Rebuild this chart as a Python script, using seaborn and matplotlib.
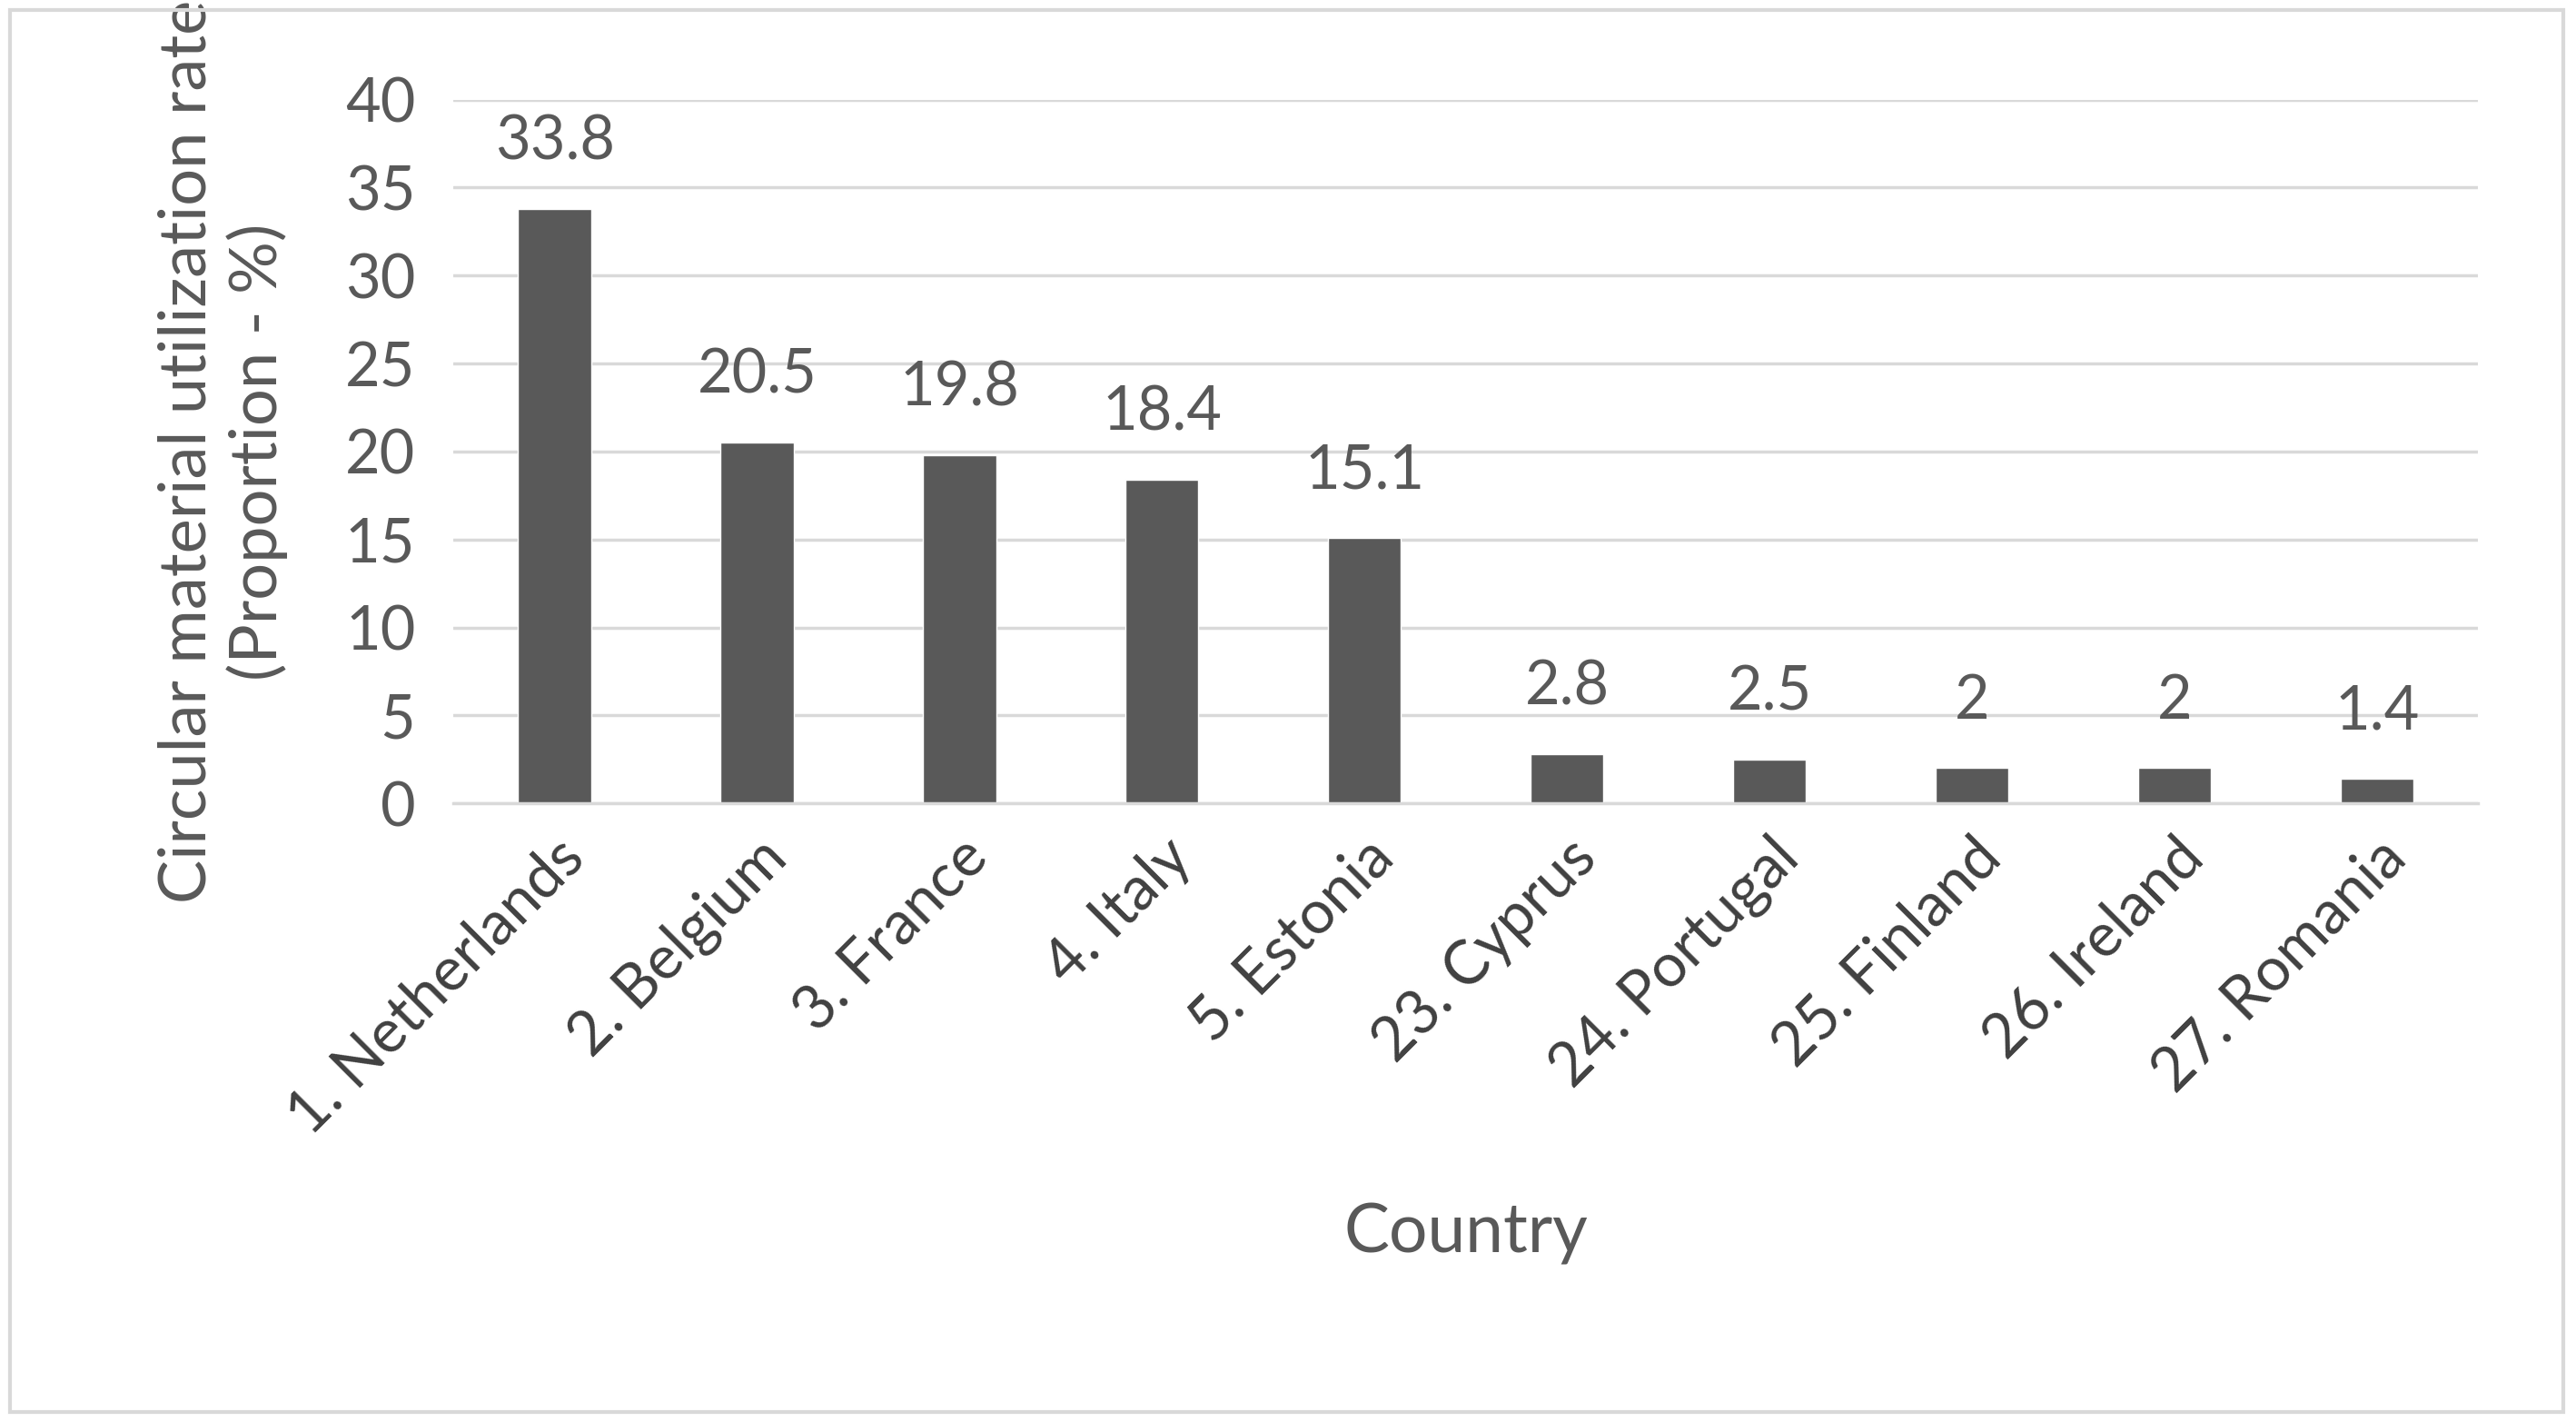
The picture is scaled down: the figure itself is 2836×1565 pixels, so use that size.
import matplotlib
matplotlib.use("Agg")
import matplotlib.pyplot as plt
import seaborn as sns
import pandas as pd
from matplotlib.patches import Rectangle

countries = ["1. Netherlands", "2. Belgium", "3. France", "4. Italy", "5. Estonia",
             "23. Cyprus", "24. Portugal", "25. Finland", "26. Ireland", "27. Romania"]
values = [33.8, 20.5, 19.8, 18.4, 15.1, 2.8, 2.5, 2, 2, 1.4]
labels = ["33.8", "20.5", "19.8", "18.4", "15.1", "2.8", "2.5", "2", "2", "1.4"]

sns.set_style("white")
plt.rcParams['font.family'] = ['Lato', 'DejaVu Sans']
tc = "#595959"

fig = plt.figure(figsize=(28.36, 15.65), dpi=100)
ax = fig.add_axes([0.176, 0.435, 0.786, 0.495])
df = pd.DataFrame({"c": countries, "v": values})
sns.barplot(data=df, x="c", y="v", color="#595959", width=0.36, saturation=1, ax=ax)
ax.set_ylim(0, 40)
ax.set_yticks(range(0, 41, 5))
ax.yaxis.grid(True, color="#d9d9d9", linewidth=2.5)
ax.set_axisbelow(True)
for s in ["top", "right", "left"]:
    ax.spines[s].set_visible(False)
ax.spines["bottom"].set_color("#d9d9d9")
ax.spines["bottom"].set_linewidth(2.5)
ax.tick_params(axis="y", length=0, labelsize=48, colors=tc, pad=30)
ax.tick_params(axis="x", length=0, labelsize=48, colors="#404040", pad=20)
plt.setp(ax.get_xticklabels(), rotation=45, ha="right", rotation_mode="anchor")
for i, (v, l) in enumerate(zip(values, labels)):
    ax.text(i, v + 2.2, l, ha="center", va="bottom", fontsize=48, color=tc)
ax.set_xlabel("Country", fontsize=54, color=tc, labelpad=45)
ax.set_ylabel("Circular material utilization rate\n(Proportion - %)", fontsize=52, color=tc, labelpad=45)
fig.patches.append(Rectangle((0.004, 0.007), 0.991, 0.986, transform=fig.transFigure,
                             fill=False, edgecolor="#d9d9d9", linewidth=3))
fig.savefig("out.png", dpi=100)
